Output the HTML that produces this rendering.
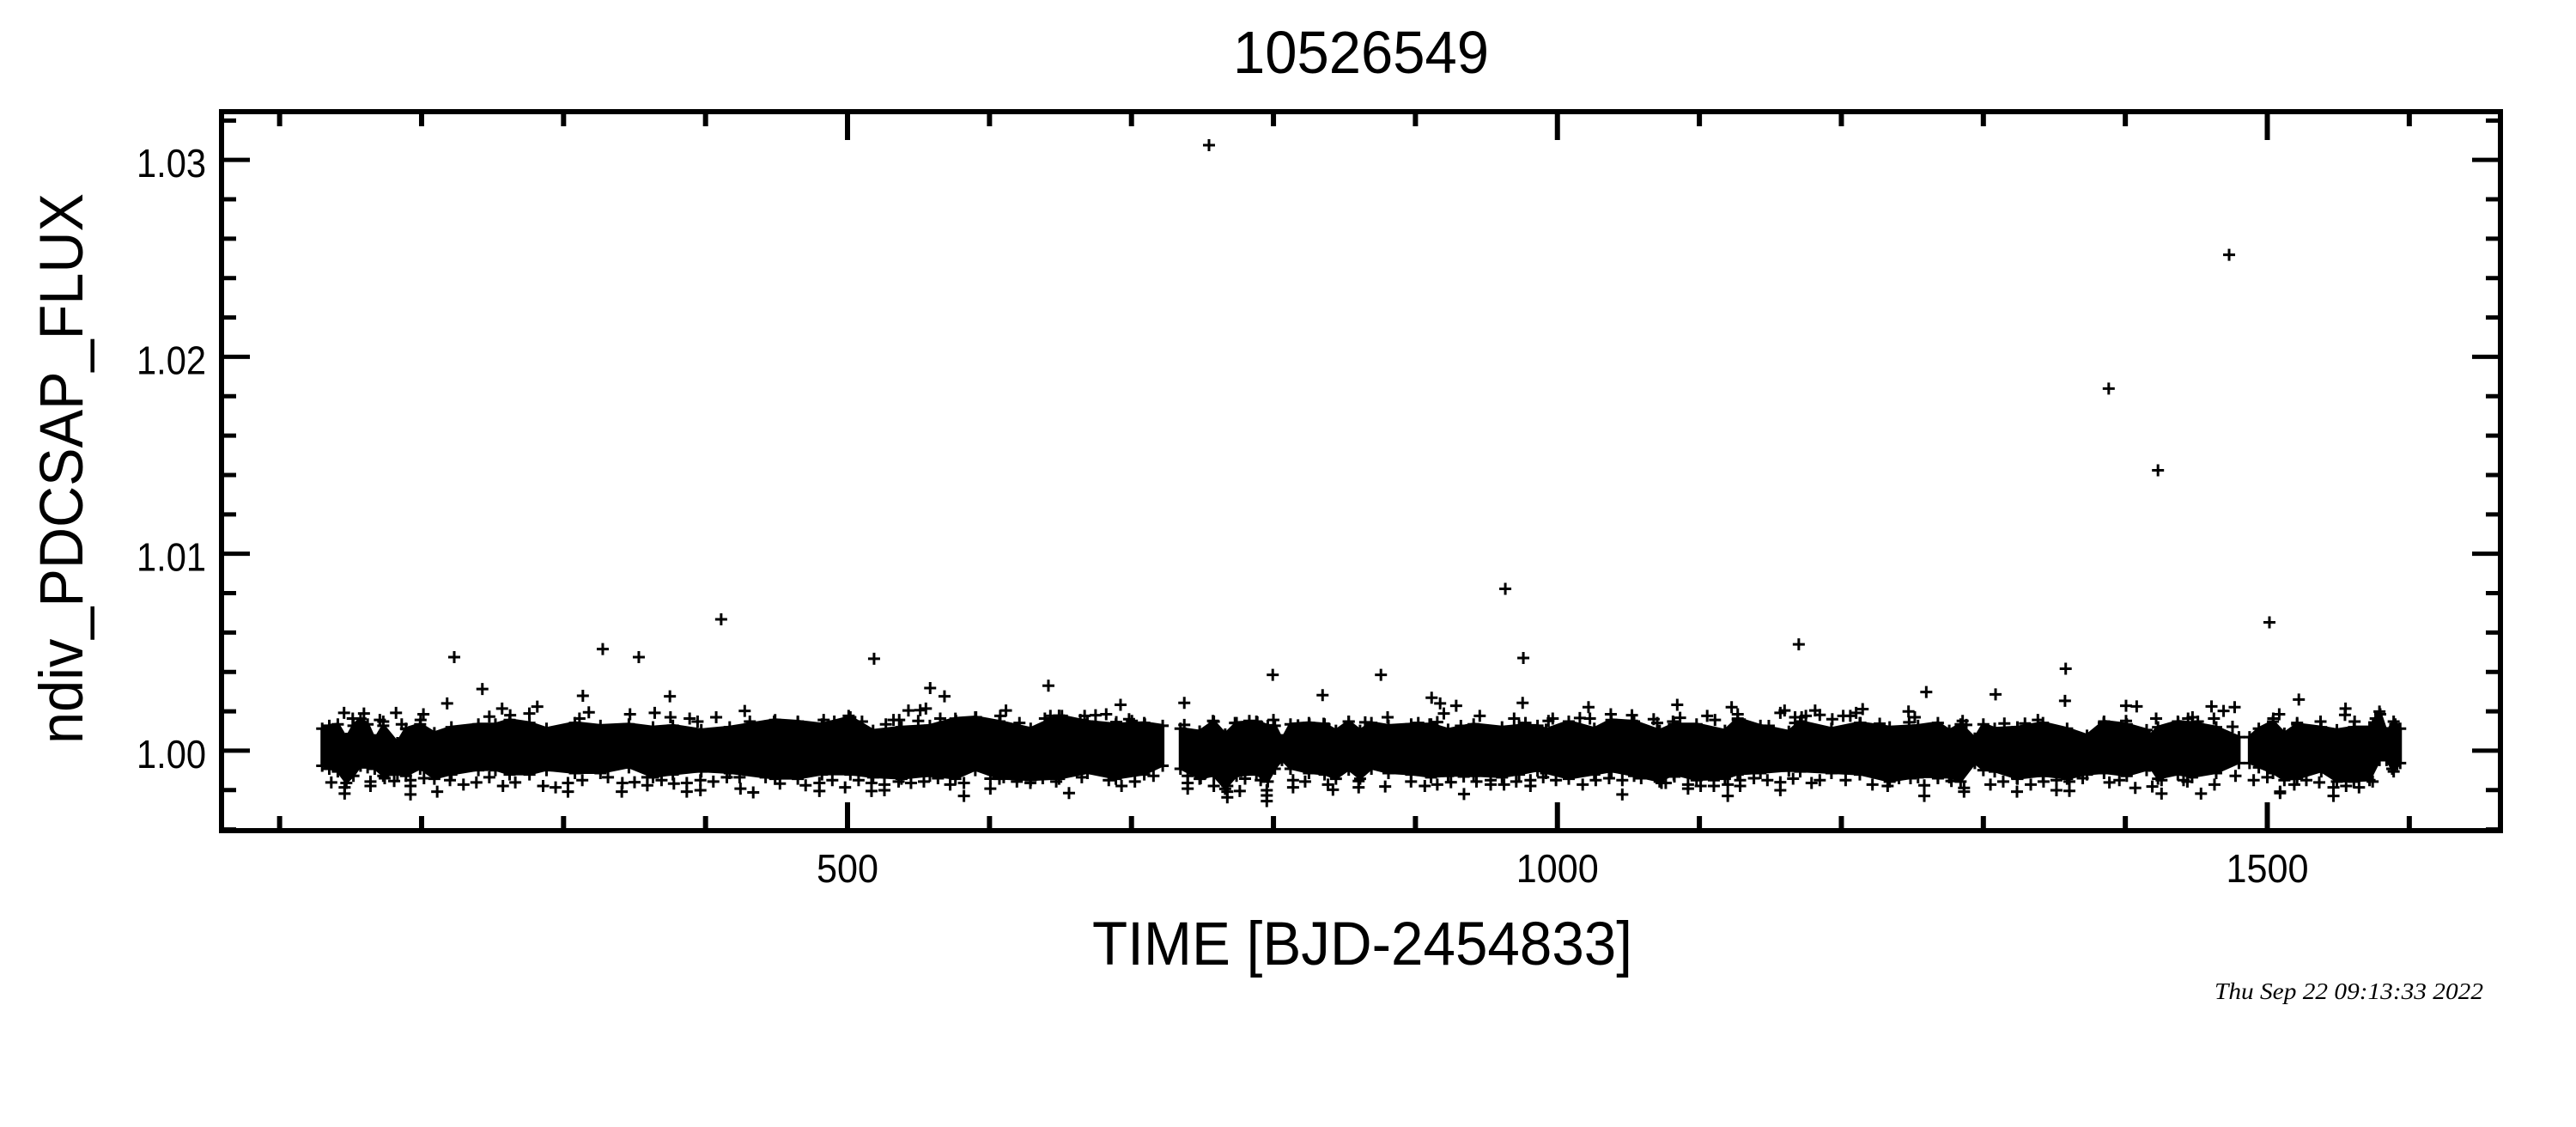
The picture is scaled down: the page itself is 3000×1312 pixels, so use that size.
<!DOCTYPE html>
<html lang="en">
<head>
<meta charset="utf-8">
<title>10526549 light curve</title>
<style>
html,body{margin:0;padding:0;background:#fff;}
svg{display:block;}
text{fill:#000;font-family:"Liberation Sans",sans-serif;}
</style>
</head>
<body>
<svg id="chart" xmlns="http://www.w3.org/2000/svg" width="3000" height="1312" viewBox="0 0 3000 1312">
  <rect x="0" y="0" width="3000" height="1312" fill="#fff"/>
  <g id="band-layer"></g>
  <g id="marker-layer"></g>
  <g id="tick-layer"></g>
  <rect x="258" y="130" width="2654" height="837" fill="none" stroke="#000" stroke-width="6"/>
  <g id="label-layer"></g>
  <text x="1436" y="85" font-size="70" textLength="298" lengthAdjust="spacingAndGlyphs">10526549</text>
  <text x="1272" y="1123" font-size="71" textLength="629" lengthAdjust="spacingAndGlyphs">TIME [BJD-2454833]</text>
  <text transform="translate(96,866) rotate(-90)" x="0" y="0" font-size="71" textLength="641" lengthAdjust="spacingAndGlyphs">ndiv_PDCSAP_FLUX</text>
  <text x="2579" y="1163" font-size="27" font-style="italic" style="font-family:'Liberation Serif',serif" textLength="313" lengthAdjust="spacingAndGlyphs">Thu Sep 22 09:13:33 2022</text>
</svg>
<script>
const xMajorTicks = [500, 1000, 1500];
const xMinorTicks = [100, 200, 300, 400, 600, 700, 800, 900, 1100, 1200, 1300, 1400, 1600];
const yMajorTicks = [1.00, 1.01, 1.02, 1.03];
const yMinorTicks = [0.996, 0.998, 1.002, 1.004, 1.006, 1.008, 1.012, 1.014, 1.016, 1.018, 1.022, 1.024, 1.026, 1.028, 1.032];
const xTickLabels = ['500', '1000', '1500'];
const yTickLabels = ['1.00', '1.01', '1.02', '1.03'];

const seasonATimes = [130,135,141,147,152,157,162,167,173,183,189,199,209,221,240,252,262,276,288,308,326,346,363,377,397,417,449,465,482,502,518,538,558,576,590,607,629,649,669,689,709,722];
const seasonAUpper = [1.0009,1.00105,1.00112,1.00039,1.00105,1.00141,1.00112,1.00032,1.00105,1.00017,1.0009,1.00112,1.00068,1.00097,1.00112,1.00112,1.00134,1.00119,1.0009,1.00119,1.00105,1.00112,1.00097,1.00105,1.00083,1.00097,1.00134,1.00126,1.00112,1.00148,1.0008,1.00097,1.00105,1.00141,1.00148,1.00126,1.0009,1.00156,1.00126,1.00112,1.00119,1.00105];
const seasonALower = [0.99945,0.9993,0.99916,0.99858,0.99894,0.99945,0.99937,0.9993,0.99894,0.99901,0.99894,0.9993,0.99879,0.99901,0.99923,0.99923,0.99901,0.99901,0.99923,0.99908,0.99908,0.99937,0.99887,0.99901,0.99916,0.99908,0.99879,0.99879,0.99901,0.99901,0.99887,0.99879,0.99894,0.99879,0.99923,0.99879,0.99872,0.99879,0.99908,0.99879,0.99901,0.99945];

const seasonBTimes = [734.5,748,758,766,774,788,796,801,806,812,825,836,844,853,861,869,881,897,911,923,941,961,973,986,992,1008,1026,1038,1054,1072,1082,1098,1118,1127,1143,1163,1171,1193,1213,1234,1254,1268,1276,1284,1294,1300,1308,1324,1342,1359,1373,1385,1401,1415,1417,1423,1437,1447,1464,1480];
const seasonBUpper = [1.0009,1.00076,1.00126,1.00061,1.00119,1.00126,1.00105,1.00105,1.00032,1.00112,1.00119,1.00112,1.0008,1.00126,1.0008,1.00119,1.00105,1.00112,1.00112,1.00085,1.00112,1.00097,1.00105,1.00105,1.00085,1.00126,1.0009,1.00134,1.00126,1.0008,1.00112,1.00112,1.0008,1.00141,1.00105,1.00075,1.00126,1.0009,1.00119,1.00097,1.00105,1.00119,1.0008,1.00112,1.0004,1.00112,1.0009,1.00097,1.00119,1.0009,1.00055,1.00126,1.00112,1.00083,1.0005,1.00097,1.00126,1.00119,1.00097,1.00047];
const seasonBLower = [0.9993,0.99879,0.99894,0.99828,0.99894,0.99901,0.99865,0.9993,0.99974,0.9993,0.99908,0.99901,0.99879,0.99925,0.99879,0.9993,0.99908,0.99901,0.99887,0.99894,0.99894,0.99887,0.99901,0.9992,0.99908,0.99879,0.99901,0.99916,0.99894,0.99865,0.99901,0.99872,0.99879,0.99901,0.99908,0.9992,0.99916,0.99908,0.99901,0.99865,0.99887,0.99887,0.99887,0.99865,0.99959,0.99923,0.99916,0.99879,0.99894,0.99879,0.99901,0.99908,0.99894,0.99923,0.99945,0.99879,0.99901,0.99887,0.99908,0.99959];

const seasonCTimes = [1487.5,1494,1504,1512,1521,1538,1549,1561,1572,1579,1584,1589,1593.6];
const seasonCUpper = [1.00047,1.0009,1.00126,1.00065,1.00112,1.00097,1.00083,1.00097,1.00097,1.00177,1.00068,1.00126,1.0009];
const seasonCLower = [0.99959,0.99937,0.99908,0.99872,0.99879,0.99916,0.99865,0.99865,0.99872,0.99974,0.99974,0.99916,0.99959];

const spikeTimes = [754.6,1473.1,1388.3,1423,963.3,1501.5,411,1170,327.6,223,353,518.7,976,1358,799.5];
const spikeFluxes = [1.03075,1.02518,1.01839,1.01424,1.00822,1.00652,1.00667,1.0054,1.00516,1.00475,1.00475,1.00467,1.00471,1.00416,1.00385];

const upperTimesEarly = [145.4,151.5,159.4,170.6,173,182,186,199.3,201.3,218,242.8,247.7,256.7,262.4,275.9,281.5,313.6,317.8,311.2,346.8,364.2,374.9,375.3,388.8,394.4,407.5];
const upperFluxEarly = [1.00192,1.00163,1.00189,1.00156,1.00148,1.00192,1.00134,1.00156,1.00185,1.0024,1.00313,1.00173,1.00214,1.0018,1.00189,1.00224,1.00279,1.00195,1.00163,1.00185,1.00192,1.00276,1.0017,1.00163,1.00148,1.0017];
const upperTimesMid = [427.6,431.2,448.3,465,483.2,490.7,500.8,510.2,527,532.4,536.4,542.9,551.2,555.2,558.2,568.3,565.3,549.8,590.5,576.4,607.6,611.6,621.1,641.5,639,642.9,651,664,667,674.7,682.2,689.3,692.3,698.3,709.4,700.3];
const upperFluxMid = [1.00202,1.00148,1.00148,1.00141,1.00156,1.00148,1.00177,1.00148,1.00134,1.00156,1.00156,1.00204,1.00206,1.00214,1.00318,1.00276,1.00163,1.00151,1.0017,1.00151,1.00177,1.00204,1.00141,1.0033,1.00163,1.00177,1.00177,1.00156,1.00177,1.0018,1.00185,1.00145,1.00233,1.0016,1.00134,1.00151];
const upperTimesLate = [737.2,737.2,757.4,772.9,783,788.6,800,817.3,825.3,834.6,835.4,853,864.6,875.7,880.4,902,910,911.4,917.4,920,915.4,928.7,945.3,932];
const upperFluxLate = [1.00243,1.00131,1.00151,1.00141,1.00151,1.00144,1.00156,1.00129,1.00134,1.00282,1.00137,1.00148,1.00144,1.00385,1.0017,1.00141,1.00134,1.00269,1.0024,1.00189,1.00145,1.00228,1.00177,1.00126];
const upperTimesFourth = [975.5,969.5,977.5,993.7,996.7,1015.8,1021.9,1022.9,1037.6,1052.5,1052.5,1067.8,1070.3,1084.4,1086.4,1081.4,1105.5,1111,1122.7,1127,1127,1131.8,1148.9,1157,1160,1167.4,1167.4,1172,1175,1181.5,1184.8,1193.6,1201.3,1206.3,1210.4,1215,1213.4,1227,1247.3,1251.7,1247.7,1259.8];
const upperFluxFourth = [1.00243,1.00163,1.00141,1.00151,1.00163,1.00166,1.00221,1.00163,1.00185,1.0018,1.00151,1.0016,1.00141,1.00233,1.00167,1.00148,1.00177,1.00156,1.00221,1.00185,1.00156,1.00134,1.00126,1.00192,1.00204,1.0017,1.00141,1.0017,1.00177,1.00204,1.00182,1.0016,1.00177,1.00177,1.00192,1.00211,1.00141,1.00137,1.00199,1.0017,1.00144,1.00298];
const upperTimesFifth = [1308.6,1285.4,1288,1314.8,1329.3,1338.4,1357.5,1384.8,1400.5,1408,1400.5,1421.7,1437.2,1444.2,1447.3,1460.7,1469.2,1477,1462.4,1475.5,1451.1,1522.2,1508.4,1504.2,1521,1537.5,1555.1,1554.7,1561.5,1576.3,1579.5,1590.1];
const upperFluxFifth = [1.00286,1.00151,1.00131,1.00138,1.00138,1.00156,1.00253,1.00141,1.00228,1.00225,1.00151,1.00163,1.00141,1.00163,1.0017,1.00225,1.00202,1.00221,1.00163,1.00122,1.00148,1.0026,1.00185,1.00163,1.00141,1.00148,1.00214,1.00182,1.00148,1.00163,1.00185,1.00134];

const lowerTimesEarly = [211,145.8,145.8,136.4,164,164,174,180.7,192.2,192.2,192.2,201.7,220,229.5,238.6,247.7,257.3,266,285.6,294.4,303.1,303.1,313.2,331.3,341,341.4,350,359,359,369,377.7,386.8,386.8,396.4,396.4,405.5,415];
const lowerFluxEarly = [0.99792,0.99782,0.99814,0.99839,0.99821,0.99843,0.9986,0.99846,0.99778,0.99821,0.9985,0.9986,0.9985,0.99828,0.99839,0.99865,0.99821,0.99839,0.99821,0.99814,0.99792,0.99836,0.9985,0.99865,0.99792,0.99836,0.9984,0.99824,0.99865,0.9985,0.99833,0.99792,0.99836,0.99799,0.9985,0.99843,0.99865];
const lowerTimesMid = [424.6,433.6,424,442.3,452.4,470.5,480.2,480.2,489.3,498.3,507.8,516.9,516.9,526,526,536,544.7,553.8,563.7,572.3,582,582,600.6,600.6,610,619.3,628.8,637.5,647,656,665,684,693,702.4,715.5];
const lowerFluxMid = [0.99807,0.99788,0.99865,0.99865,0.99833,0.99824,0.99795,0.99836,0.9985,0.99814,0.9985,0.99795,0.99836,0.99799,0.99828,0.99843,0.99836,0.99843,0.9986,0.99828,0.9977,0.99836,0.99807,0.99858,0.99865,0.99843,0.99836,0.9986,0.99843,0.99785,0.99865,0.9985,0.99821,0.99843,0.99872];
const lowerTimesLate = [739.6,739.6,739.6,748.7,758,767.5,767.5,767.5,776.3,780,791,795.3,795.3,795.3,813.8,813.8,822.3,838.4,841.9,860,860,878.7,896.9,906.6,915.4,925,934.2,934,943,953,953];
const lowerFluxLate = [0.99807,0.99836,0.99872,0.9986,0.99821,0.99763,0.99792,0.99821,0.99795,0.99858,0.9985,0.99744,0.99773,0.99799,0.99814,0.9985,0.99843,0.99828,0.99802,0.99814,0.99846,0.99818,0.99843,0.99821,0.99828,0.9984,0.9978,0.99869,0.99843,0.99828,0.9985];
const lowerTimesFourth = [962.4,971,981,981,990,999,1017.8,1027,1036.4,1045.7,1045.7,1059,1073.3,1076.3,1082.4,1092,1092,1100.9,1110.2,1110.2,1120,1120,1128.7,1128.7,1138.4,1147.9,1157,1157,1166,1179,1184.8,1203,1221.9,1232.6,1240.6,1248.7,1258.4,1258.4];
const lowerFluxFourth = [0.99828,0.99843,0.99821,0.9985,0.99865,0.9985,0.99828,0.9985,0.9986,0.99778,0.9985,0.9986,0.99836,0.99836,0.99869,0.99807,0.99828,0.99821,0.99821,0.9985,0.9977,0.99828,0.99821,0.9985,0.9986,0.9985,0.99799,0.9984,0.99858,0.99836,0.9985,0.9985,0.99828,0.99821,0.9986,0.9986,0.9977,0.99824];
const lowerTimesFifth = [1268,1277.5,1286.4,1286.4,1305,1314,1323.7,1323.7,1333.4,1342.4,1351.5,1351.5,1360.6,1360.6,1370,1388.8,1395.8,1407,1419,1425.5,1425.5,1441,1443.7,1453.3,1462.8,1477.6,1490.4,1500,1509,1509,1519,1527.5,1536.6,1546.6,1546.6,1555.5,1564.6,1574.2,1588];
const lowerFluxFifth = [0.9986,0.99846,0.99811,0.99792,0.99828,0.99843,0.99792,0.9986,0.99828,0.99843,0.99799,0.9985,0.99796,0.99843,0.9986,0.99839,0.9985,0.99811,0.99818,0.99782,0.9985,0.9985,0.99843,0.99782,0.99828,0.99872,0.9985,0.99865,0.99792,0.99785,0.99828,0.9985,0.99839,0.9977,0.99814,0.99821,0.99814,0.99843,0.99908];

const SVG_NS = 'http://www.w3.org/2000/svg';
const plot = { left: 258, right: 2912, top: 130, bottom: 967 };
const xDomain = [59.1, 1664.2];
const yDomain = [0.99594, 1.03245];

function xScale(t) {
  return plot.left + (t - xDomain[0]) / (xDomain[1] - xDomain[0]) * (plot.right - plot.left);
}
function yScale(v) {
  return plot.bottom - (v - yDomain[0]) / (yDomain[1] - yDomain[0]) * (plot.bottom - plot.top);
}

const bandLayer = document.getElementById('band-layer');
const markerLayer = document.getElementById('marker-layer');
const tickLayer = document.getElementById('tick-layer');
const labelLayer = document.getElementById('label-layer');

function addPlus(t, v, shift) {
  const x = xScale(t);
  const y = yScale(v) + (shift || 0);
  const el = document.createElementNS(SVG_NS, 'path');
  el.setAttribute('d', 'M' + (x - 7) + ' ' + y + 'H' + (x + 7) + 'M' + x + ' ' + (y - 7) + 'V' + (y + 7));
  el.setAttribute('stroke', '#000');
  el.setAttribute('stroke-width', '3');
  el.setAttribute('fill', 'none');
  
  
  markerLayer.appendChild(el);
}

function drawSeason(times, upper, lower) {
  const top = times.map(function (t, i) { return xScale(t) + ',' + (yScale(upper[i]) - 5); });
  const bottom = times.map(function (t, i) { return xScale(t) + ',' + (yScale(lower[i]) + 4); }).reverse();
  const poly = document.createElementNS(SVG_NS, 'polygon');
  poly.setAttribute('points', top.concat(bottom).join(' '));
  poly.setAttribute('fill', '#000');
  poly.setAttribute('stroke', '#000');
  poly.setAttribute('stroke-width', '4');
  poly.setAttribute('stroke-linejoin', 'round');
  
  
  bandLayer.appendChild(poly);
  times.forEach(function (t, i) {
    addPlus(t, upper[i], -5);
    addPlus(t, lower[i], 5);
  });
}

drawSeason(seasonATimes, seasonAUpper, seasonALower);
drawSeason(seasonBTimes, seasonBUpper, seasonBLower);
drawSeason(seasonCTimes, seasonCUpper, seasonCLower);

function drawPoints(times, fluxes) {
  times.forEach(function (t, i) { addPlus(t, fluxes[i], 0); });
}
drawPoints(spikeTimes, spikeFluxes);
drawPoints(upperTimesEarly, upperFluxEarly);
drawPoints(upperTimesMid, upperFluxMid);
drawPoints(upperTimesLate, upperFluxLate);
drawPoints(upperTimesFourth, upperFluxFourth);
drawPoints(upperTimesFifth, upperFluxFifth);
drawPoints(lowerTimesEarly, lowerFluxEarly);
drawPoints(lowerTimesMid, lowerFluxMid);
drawPoints(lowerTimesLate, lowerFluxLate);
drawPoints(lowerTimesFourth, lowerFluxFourth);
drawPoints(lowerTimesFifth, lowerFluxFifth);

function addTick(x1, y1, x2, y2, width) {
  const el = document.createElementNS(SVG_NS, 'line');
  el.setAttribute('x1', x1);
  el.setAttribute('y1', y1);
  el.setAttribute('x2', x2);
  el.setAttribute('y2', y2);
  el.setAttribute('stroke', '#000');
  el.setAttribute('stroke-width', width);
  
  
  tickLayer.appendChild(el);
}

function drawXTicks(values, len) {
  values.forEach(function (t) {
    const x = xScale(t);
    addTick(x, plot.bottom, x, plot.bottom - len, 6);
    addTick(x, plot.top, x, plot.top + len, 6);
  });
}
function drawYTicks(values, len) {
  values.forEach(function (v) {
    const y = yScale(v);
    addTick(plot.left, y, plot.left + len, y, 5);
    addTick(plot.right, y, plot.right - len, y, 5);
  });
}
drawXTicks(xMajorTicks, 33);
drawXTicks(xMinorTicks, 17);
drawYTicks(yMajorTicks, 33);
drawYTicks(yMinorTicks, 17);

function addLabel(text, x, y, length, name) {
  const el = document.createElementNS(SVG_NS, 'text');
  el.setAttribute('x', x);
  el.setAttribute('y', y);
  el.setAttribute('font-size', '46');
  el.setAttribute('textLength', length);
  el.setAttribute('lengthAdjust', 'spacingAndGlyphs');
  
  
  el.textContent = text;
  labelLayer.appendChild(el);
}

xTickLabels.forEach(function (label, i) {
  const length = label.length * 24;
  addLabel(label, xScale(xMajorTicks[i]) - length / 2, 1027, length, 'x-tick-label');
});
yTickLabels.forEach(function (label, i) {
  addLabel(label, 159, yScale(yMajorTicks[i]) + 20, 81, 'y-tick-label');
});
</script>
</body>
</html>
